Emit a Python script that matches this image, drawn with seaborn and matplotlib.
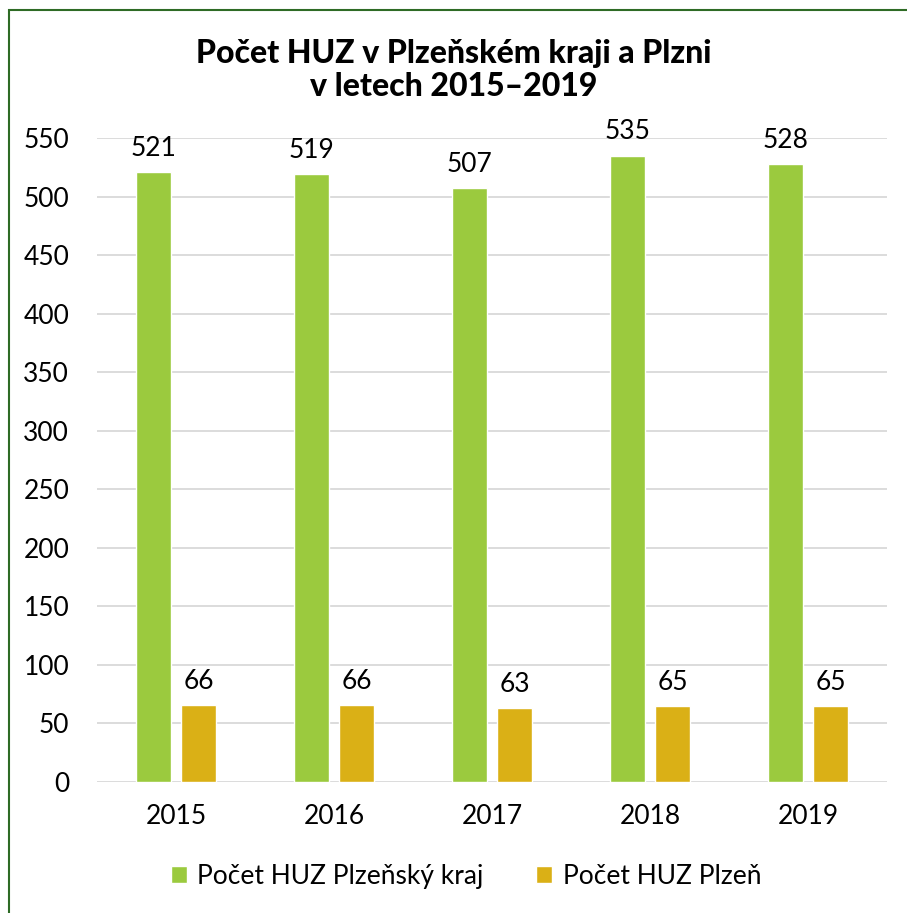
import pandas as pd
import matplotlib.pyplot as plt
import matplotlib.patches as patches
import seaborn as sns

years = ["2015", "2016", "2017", "2018", "2019"]
kraj = [521, 519, 507, 535, 528]
plzen = [66, 66, 63, 65, 65]
series_names = ["Počet HUZ Plzeňský kraj", "Počet HUZ Plzeň"]
colors = ["#9BCA3E", "#DAB016"]

df = pd.DataFrame({
    "rok": years * 2,
    "pocet": kraj + plzen,
    "serie": [series_names[0]] * len(years) + [series_names[1]] * len(years),
})

sns.set_theme(style="white")
plt.rcParams["font.family"] = ["Lato", "DejaVu Sans"]
plt.rcParams["text.color"] = "black"

fig = plt.figure(figsize=(9.07, 9.13), dpi=100)
ax = fig.add_axes([97 / 907, 1 - 782 / 913, 790 / 907, 644 / 913])

sns.barplot(data=df, x="rok", y="pocet", hue="serie", palette=colors,
            width=0.57, gap=0.22, ax=ax, saturation=1, legend=True)

ax.set_ylim(0, 550)
ax.set_yticks(range(0, 551, 50))
ax.grid(axis="y", color="#D9D9D9", linewidth=1.3)
ax.set_axisbelow(True)
for s in ax.spines.values():
    s.set_visible(False)
ax.set_xlabel("")
ax.set_ylabel("")
ax.tick_params(axis="both", length=0, labelsize=19, colors="black")
ax.tick_params(axis="y", pad=20)
ax.tick_params(axis="x", pad=16)

for cont in ax.containers:
    ax.bar_label(cont, padding=8, fontsize=19, color="black", clip_on=False)

fig.text(0.5, 1 - 70 / 913, "Počet HUZ v Plzeňském kraji a Plzni\nv letech 2015–2019",
         ha="center", va="center", fontsize=23, fontweight="black",
         color="black", linespacing=1.2)

leg = ax.legend(loc="center", bbox_to_anchor=(0.467, -0.147), ncol=2, frameon=False,
                fontsize=19, handlelength=0.6, handleheight=0.6, handletextpad=0.4,
                columnspacing=2.0)
for t in leg.get_texts():
    t.set_color("black")

border = patches.Rectangle((9 / 907, -0.1), 1.2, 1 - 10 / 913 + 0.1,
                           transform=fig.transFigure, fill=False,
                           edgecolor="#2E6B25", linewidth=1.5)
fig.patches.append(border)

fig.savefig("out.png", dpi=100)
